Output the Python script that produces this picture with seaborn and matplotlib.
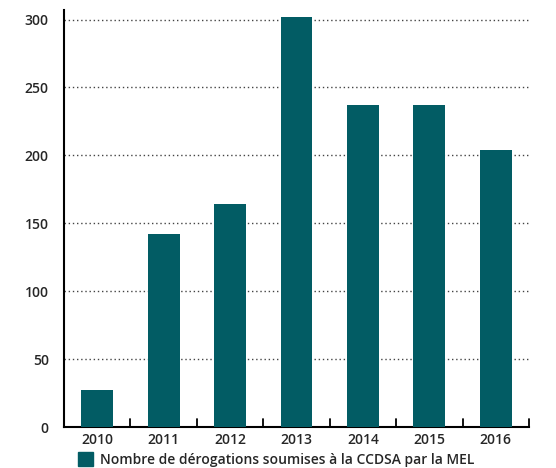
import pandas as pd
import matplotlib.pyplot as plt
import matplotlib.patches as mpatches
import seaborn as sns

# Données
annees = ['2010', '2011', '2012', '2013', '2014', '2015', '2016']
derogations = [27, 142, 164, 302, 237, 237, 204]
yticks = [0, 50, 100, 150, 200, 250, 300]
legende = 'Nombre de dérogations soumises à la CCDSA par la MEL'

couleur = '#025c64'

sns.set_style("white")
plt.rcParams['font.family'] = ['Open Sans', 'DejaVu Sans']

df = pd.DataFrame({'annee': annees, 'n': derogations})

fig = plt.figure(figsize=(5.56, 4.68), dpi=100)
ax = fig.add_axes([0.1151, 0.0876, 0.8363, 0.891])

sns.barplot(data=df, x='annee', y='n', color=couleur, width=0.48,
            saturation=1, linewidth=0, ax=ax, zorder=3)

ax.set_xlim(-0.5, len(annees) - 0.5)
ax.set_ylim(0, 307)
ax.set_yticks(yticks)
ax.set_yticklabels([str(v) for v in yticks], fontsize=10, fontweight='semibold')
ax.tick_params(axis='y', length=0, pad=11)

# graduations entre les catégories
ax.set_xticks(range(len(annees)))
ax.set_xticklabels(annees, fontsize=10, fontweight='semibold')
ax.tick_params(axis='x', length=0, pad=4)
for i in range(len(annees)):
    ax.plot([i + 0.5, i + 0.5], [0, 6], color='black', lw=1.3,
            clip_on=False, zorder=4)

# grille pointillée
for v in yticks[1:]:
    ax.axhline(v, color='#444444', lw=1, linestyle=(0, (1, 2)), zorder=1)

ax.set_xlabel('')
ax.set_ylabel('')
for s in ['top', 'right']:
    ax.spines[s].set_visible(False)
ax.spines['left'].set_linewidth(1.5)
ax.spines['bottom'].set_linewidth(1.5)
ax.spines['left'].set_color('black')
ax.spines['bottom'].set_color('black')

handle = mpatches.Patch(color=couleur, label=legende)
fig.legend(handles=[handle], loc='lower left', bbox_to_anchor=(0.118, -0.024),
           frameon=False, handlelength=1.1, handleheight=1.1,
           handletextpad=0.5, prop={'weight': 'semibold', 'size': 10})

fig.savefig('out.png', dpi=100)
